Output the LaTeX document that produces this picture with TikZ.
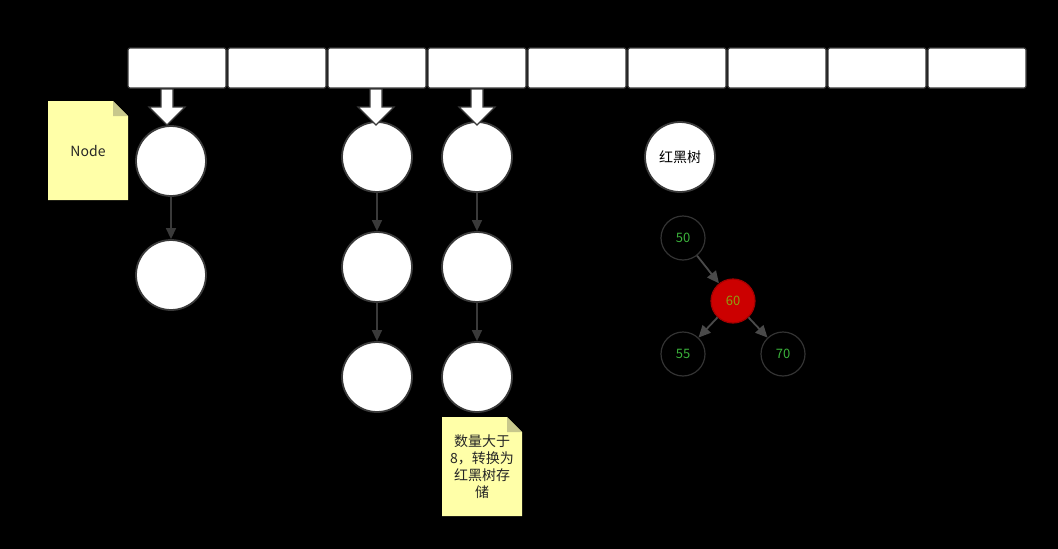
\documentclass[tikz,border=0pt]{standalone}
\usepackage{fontspec}
\setmainfont{Noto Sans CJK SC}
\usetikzlibrary{arrows.meta,calc}
\definecolor{bordergray}{HTML}{3A3A3A}
\definecolor{notey}{HTML}{FFFFA8}
\definecolor{notefold}{HTML}{C8C88C}
\definecolor{treegreen}{HTML}{3BB33B}
\definecolor{treered}{HTML}{CC0000}
\definecolor{olive}{HTML}{8FA010}
\definecolor{linkgray}{HTML}{4A4A4A}
\tikzset{
  cell/.style={draw=bordergray, line width=1.2pt, fill=white, rounded corners=2pt, minimum width=98pt, minimum height=40pt, inner sep=0pt},
  entry/.style={circle, draw=bordergray, line width=1.8pt, fill=white, minimum size=70pt, inner sep=0pt, font=\fontsize{14pt}{16pt}\selectfont},
  link/.style={draw=bordergray, line width=1.4pt, -{Triangle[length=11pt,width=10pt]}},
  bucketarrow/.style={draw=bordergray, line width=1.2pt, fill=white, line join=miter},
  tnode/.style={circle, draw=black!80!white, line width=1.2pt, fill=black, minimum size=44pt, inner sep=0pt, text=treegreen, font=\fontsize{13pt}{15pt}\selectfont},
  tlink/.style={draw=linkgray, line width=1.8pt, -{Triangle[length=12pt,width=11pt]}},
  notetext/.style={font=\fontsize{14pt}{17pt}\selectfont, align=center, text=black!85}
}
\begin{document}
\begin{tikzpicture}[x=1pt,y=-1pt]
\fill[black] (0,0) rectangle (1058,549);
\useasboundingbox (0,0) rectangle (1058,549);
% array cells
\foreach \i in {0,...,8}{
  \node[cell] (c\i) at ({177+100*\i},68) {};
}
% chains
\node[entry] (a1) at (171,161) {};
\node[entry] (a2) at (171,275) {};
\node[entry] (b1) at (377,157) {};
\node[entry] (b2) at (377,267) {};
\node[entry] (b3) at (377,377) {};
\node[entry] (d1) at (477,157) {};
\node[entry] (d2) at (477,267) {};
\node[entry] (d3) at (477,377) {};
\node[entry] (rb) at (680,157) {红黑树};
\draw[link] (a1) -- (a2);
\draw[link] (b1) -- (b2);
\draw[link] (b2) -- (b3);
\draw[link] (d1) -- (d2);
\draw[link] (d2) -- (d3);
% bucket arrows
\foreach \cx/\ty in {167/125, 376/125, 477/125}{
  \draw[bucketarrow] (\cx-6,89) -- (\cx+6,89) -- (\cx+6,107) -- (\cx+18,107) -- (\cx,\ty) -- (\cx-18,107) -- (\cx-6,107) -- cycle;
}
% notes
\fill[notey] (48,101) -- (113,101) -- (128,116) -- (128,200) -- (48,200) -- cycle;
\fill[notefold] (113,101) -- (128,116) -- (113,116) -- cycle;
\node[notetext] (n1) at (88,151) {Node};
\fill[notey] (442,417) -- (507,417) -- (522,432) -- (522,516) -- (442,516) -- cycle;
\fill[notefold] (507,417) -- (522,432) -- (507,432) -- cycle;
\node[notetext] (n2) at (482,467) {数量大于\\8，转换为\\红黑树存\\储};
% red-black tree
\node[tnode] (t50) at (683,238) {50};
\node[tnode, fill=treered, draw=treered!80!black, text=olive] (t60) at (733,301) {60};
\node[tnode] (t55) at (683,354) {55};
\node[tnode] (t70) at (783,354) {70};
\draw[tlink] (t50) -- (t60);
\draw[tlink] (t60) -- (t55);
\draw[tlink] (t60) -- (t70);
\end{tikzpicture}
\end{document}
